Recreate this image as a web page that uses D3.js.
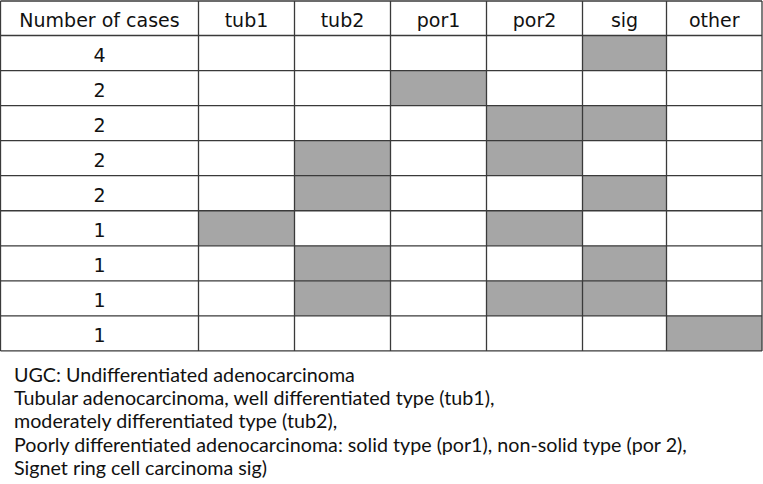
<!DOCTYPE html>
<html>
<head>
<meta charset="utf-8">
<script src="https://cdn.jsdelivr.net/npm/d3@7"></script>
<style>
  body{margin:0;background:#fff}
  svg{display:block}
</style>
</head>
<body>
<script>
  // table data
  let columns = ["Number of cases","tub1","tub2","por1","por2","sig","other"]
  let cases = [4,2,2,2,2,1,1,1,1]
  let shaded = [
    ["sig"],
    ["por1"],
    ["por2","sig"],
    ["tub2","por2"],
    ["tub2","sig"],
    ["tub1","por2"],
    ["tub2","sig"],
    ["tub2","por2","sig"],
    ["other"]
  ]
  let notes = [
    "UGC: Undifferentiated adenocarcinoma",
    "Tubular adenocarcinoma, well differentiated type (tub1),",
    "moderately differentiated type (tub2),",
    "Poorly differentiated adenocarcinoma: solid type (por1), non-solid type (por 2),",
    "Signet ring cell carcinoma sig)"
  ]

  let width = 763, height = 484
  let colEdges = [0.5,198.5,294.5,390.5,486.5,582.5,666.5,762]
  let tableTop = 1, headerH = 34.5, rowH = 35.05

  let svg = d3.select("body").append("svg").attr("width",width).attr("height",height)

  let x0 = d3.scaleOrdinal().domain(columns).range(colEdges.slice(0,-1))
  let x1 = d3.scaleOrdinal().domain(columns).range(colEdges.slice(1))
  let y = d3.scaleBand().domain(d3.range(cases.length))
    .range([tableTop+headerH, tableTop+headerH+rowH*cases.length])

  let cells = []
  cases.forEach((c,i)=>{
    columns.slice(1).forEach(col=>{
      cells.push({row:i,col:col,on:shaded[i].includes(col)})
    })
  })

  let g = svg.append("g")
  g.selectAll("rect.cell").data(cells).join("rect")
    .attr("class","cell")
    .attr("x",d=>x0(d.col)).attr("y",d=>y(d.row))
    .attr("width",d=>x1(d.col)-x0(d.col)).attr("height",y.bandwidth())
    .attr("fill",d=>d.on?"#a6a6a6":"#fff")

  // grid lines
  let bottom = y.range()[1]
  let hLines = [tableTop].concat(d3.range(cases.length).map(i=>y(i)), [bottom])
  g.selectAll("line.h").data(hLines).join("line")
    .attr("x1",colEdges[0]).attr("x2",colEdges[colEdges.length-1])
    .attr("y1",d=>d).attr("y2",d=>d)
    .attr("stroke","#3a3a3a").attr("stroke-width",1.3)
  g.selectAll("line.v").data(colEdges).join("line")
    .attr("x1",d=>d).attr("x2",d=>d)
    .attr("y1",tableTop).attr("y2",bottom)
    .attr("stroke","#3a3a3a").attr("stroke-width",1.3)

  let font = "'DejaVu Sans', sans-serif"
  g.selectAll("text.head").data(columns).join("text")
    .attr("class","head")
    .attr("x",d=>(x0(d)+x1(d))/2).attr("y",tableTop+25.8)
    .attr("text-anchor","middle")
    .attr("font-family",font).attr("font-size",19).attr("fill","#111")
    .text(d=>d)

  g.selectAll("text.num").data(cases).join("text")
    .attr("class","num")
    .attr("x",(x0(columns[0])+x1(columns[0]))/2)
    .attr("y",(d,i)=>y(i)+26.2)
    .attr("text-anchor","middle")
    .attr("font-family",font).attr("font-size",19).attr("fill","#111")
    .text(d=>d)

  svg.append("g").selectAll("text").data(notes).join("text")
    .attr("x",14).attr("y",(d,i)=>381.7+i*23.3)
    .attr("font-family","Lato, sans-serif").attr("font-size",19.7).attr("fill","#111")
    .text(d=>d)
</script>
</body>
</html>
